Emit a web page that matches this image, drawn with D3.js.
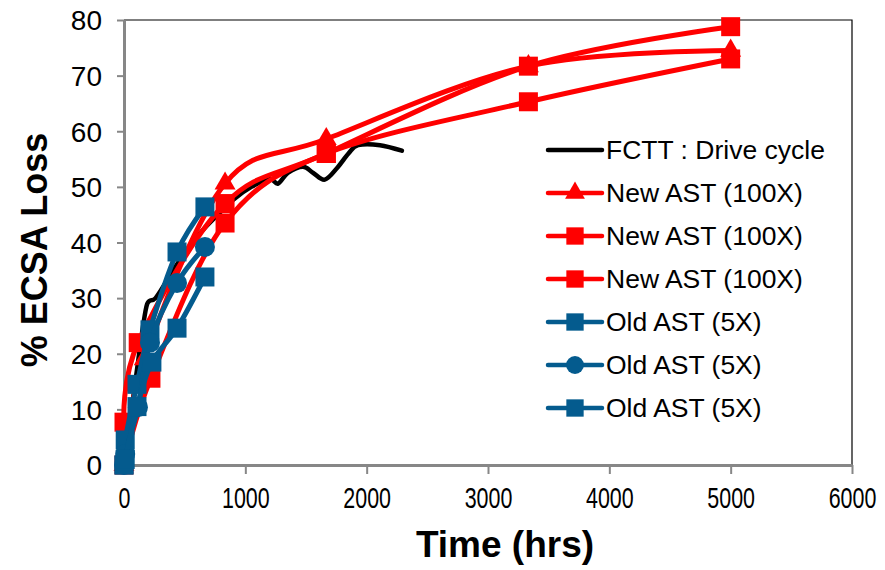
<!DOCTYPE html>
<html><head><meta charset="utf-8">
<script src="https://cdn.jsdelivr.net/npm/d3@7/dist/d3.min.js"></script>
<style>body{margin:0;background:#fff}svg{display:block}text{font-family:"Liberation Sans",Arial,sans-serif}</style>
</head><body><svg id="c" width="885" height="570"></svg>
<script>
const xTicks = [0,1000,2000,3000,4000,5000,6000];
const yTicks = [0,10,20,30,40,50,60,70,80];
const seriesNames = ["FCTT : Drive cycle","New AST (100X)","New AST (100X)","New AST (100X)","Old AST (5X)","Old AST (5X)","Old AST (5X)"];
const fcttT = [0,50,100,150,185,210,260,350,450,600,750,900,1050,1200,1270,1350,1475,1560,1655,1760,1850,1930,2110,2290];
const fcttV = [0,8,16,24,28.5,29.5,30,33,36.5,41,44.5,47.7,50,51.4,50.6,52.5,53.6,52.5,51.3,53.5,56,57.5,57.5,56.5];
const newT1 = [0,167,833,1667,3333,5000];
const newV1 = [0,19,50.6,58.6,71.7,74.5];
const newT2 = [0,117,833,1667,3333,5000];
const newV2 = [7.7,22,47,56,71.7,78.8];
const newT3 = [0,222,833,1667,3333,5000];
const newV3 = [0,15.6,43.5,56,65.3,73];
const oldT1 = [0,10,107,214,437,667];
const oldV1 = [0,4.5,14.5,24.3,38.3,46.4];
const oldT2 = [0,10,115,214,437,667];
const oldV2 = [0,2,10.4,22,32.7,39.2];
const oldT3 = [0,10,107,230,437,667];
const oldV3 = [0,1,10.5,18.5,24.6,33.8];

const RED="#ff0000", BLUE="#045b8e";
const series = [
  {t:fcttT,v:fcttV,color:"#000",marker:null},
  {t:newT1,v:newV1,color:RED,marker:"tri"},
  {t:newT2,v:newV2,color:RED,marker:"sq"},
  {t:newT3,v:newV3,color:RED,marker:"sq"},
  {t:oldT1,v:oldV1,color:BLUE,marker:"sq"},
  {t:oldT2,v:oldV2,color:BLUE,marker:"ci"},
  {t:oldT3,v:oldV3,color:BLUE,marker:"sq"}
];
const svg=d3.select("#c");
const L=124,R=852,T=20,B=465;
const x=d3.scaleLinear().domain([0,6000]).range([L,R]);
const y=d3.scaleLinear().domain([0,80]).range([B,T]);

svg.append("path").attr("d",`M${L},${T}H${R}V${B}`).attr("fill","none").attr("stroke","#000").attr("stroke-width",1.2);

const xa=svg.append("g").attr("transform",`translate(0,${B})`).call(d3.axisBottom(x).tickValues(xTicks).tickSize(9).tickSizeOuter(0).tickFormat(d3.format("d")));
const ya=svg.append("g").attr("transform",`translate(${L},0)`).call(d3.axisLeft(y).tickValues(yTicks).tickSize(8).tickSizeOuter(0));
[xa,ya].forEach(a=>{a.select(".domain").attr("stroke","#878787").attr("stroke-width",3);a.selectAll(".tick line").attr("stroke","#878787").attr("stroke-width",2);a.selectAll("text").attr("fill","#000");});
ya.selectAll(".tick line").attr("x2",-7);
ya.selectAll("text").attr("x",-22).attr("dy","0.35em").style("font-size","28px");
xa.selectAll(".tick text").attr("y",22).attr("dy","0.71em").attr("x",0).style("font-size","29px").attr("transform","scale(0.74,1)");

svg.append("text").attr("x",505).attr("y",557).attr("text-anchor","middle").style("font-size","37px").style("font-weight","bold").text("Time (hrs)");
svg.append("text").attr("transform","translate(47,250) rotate(-90)").attr("text-anchor","middle").style("font-size","36px").style("font-weight","bold").text("% ECSA Loss");

const line=d3.line().x(d=>x(d[0])).y(d=>y(d[1])).curve(d3.curveCardinal.tension(0));
function sym(m,sz){
  if(m==="tri") return d3.symbol().type(d3.symbolTriangle).size(sz||190)();
  if(m==="ci") return d3.symbol().type(d3.symbolCircle).size(sz||314)();
  return d3.symbol().type(d3.symbolSquare).size(sz||361)();
}
series.forEach(s=>{
  const pts=s.t.map((t,i)=>[t,s.v[i]]);
  const g=svg.append("g");
  g.append("path").attr("d",line(pts)).attr("fill","none").attr("stroke",s.color).attr("stroke-width",s.marker?5:4.5).attr("stroke-linecap","round");
  if(s.marker){
    g.selectAll("path.m").data(pts).enter().append("path").attr("class","m")
     .attr("transform",d=>`translate(${x(d[0])},${y(d[1])})`).attr("d",sym(s.marker)).attr("fill",s.color);
  }
});

const lg=svg.append("g");
seriesNames.forEach((n,i)=>{
  const yy=150+i*43, s=series[i];
  lg.append("line").attr("x1",548).attr("x2",602).attr("y1",yy).attr("y2",yy).attr("stroke",s.color).attr("stroke-width",4.5).attr("stroke-linecap","round");
  if(s.marker){
    const sz = s.marker==="tri"?170:(s.marker==="ci"?250:300);
    lg.append("path").attr("d",sym(s.marker,sz)).attr("transform",`translate(575,${yy})`).attr("fill",s.color);
  }
  lg.append("text").attr("x",606).attr("y",yy).attr("dy","0.35em").style("font-size","26.5px").text(n);
});
</script></body></html>
